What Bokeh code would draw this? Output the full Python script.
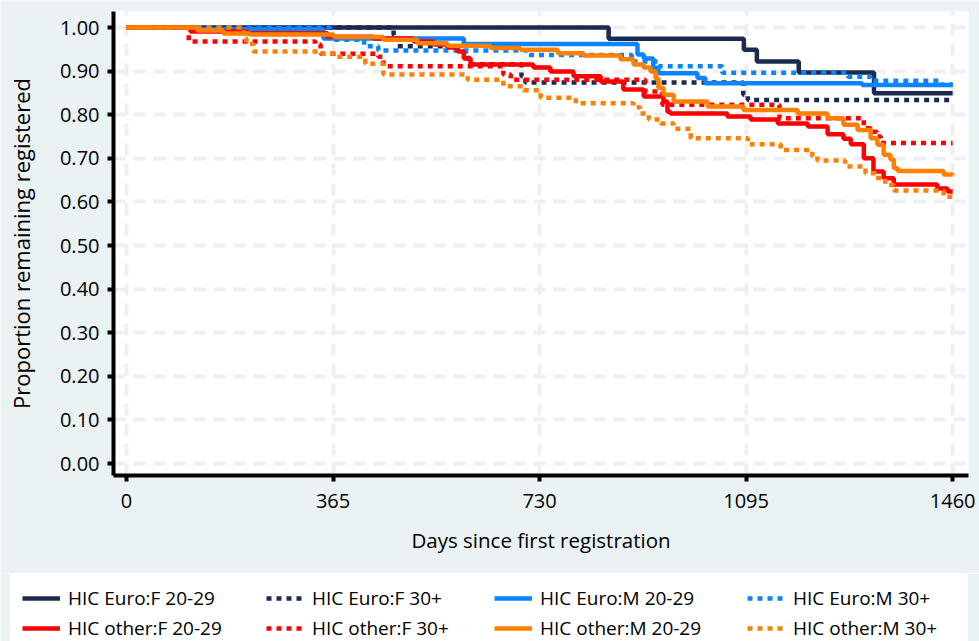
from bokeh.plotting import figure
from bokeh.layouts import column
from bokeh.models import Range1d, FixedTicker, Legend, LegendItem, PrintfTickFormatter
from bokeh.embed import file_html
from bokeh.resources import INLINE

# ---------------- data ----------------
x_ticks = [0, 365, 730, 1095, 1460]
y_ticks = [0.0, 0.1, 0.2, 0.3, 0.4, 0.5, 0.6, 0.7, 0.8, 0.9, 1.0]

labels = ["HIC Euro:F 20-29", "HIC Euro:F 30+", "HIC Euro:M 20-29", "HIC Euro:M 30+",
          "HIC other:F 20-29", "HIC other:F 30+", "HIC other:M 20-29", "HIC other:M 30+"]

euro_f_young_days = [0, 852, 1091, 1114, 1188, 1321, 1460]
euro_f_young_vals = [1.0, 0.974, 0.949, 0.922, 0.897, 0.849, 0.849]

euro_f_old_days = [0, 472, 479, 585, 604, 698, 705, 1090, 1098, 1460]
euro_f_old_vals = [1.0, 0.983, 0.957, 0.945, 0.916, 0.888, 0.874, 0.846, 0.834, 0.834]

euro_m_young_days = [0, 130, 348, 596, 903, 914, 931, 940, 1009, 1023, 1300, 1460]
euro_m_young_vals = [1.0, 0.996, 0.975, 0.962, 0.938, 0.929, 0.907, 0.895, 0.884, 0.872, 0.868, 0.868]

euro_m_old_days = [0, 360, 420, 445, 709, 893, 940, 1053, 1275, 1315, 1440, 1460]
euro_m_old_vals = [1.0, 0.972, 0.957, 0.947, 0.937, 0.922, 0.911, 0.896, 0.887, 0.878, 0.869, 0.869]

other_f_young_days = [0, 113, 214, 355, 437, 507, 543, 567, 585, 596, 608, 719, 749, 790, 838, 878,
                      914, 949, 956, 961, 1062, 1103, 1151, 1204, 1239, 1267, 1280, 1303, 1320,
                      1338, 1356, 1433, 1451, 1460]
other_f_young_vals = [1.0, 0.991, 0.987, 0.979, 0.975, 0.968, 0.961, 0.954, 0.945, 0.929, 0.915,
                      0.908, 0.899, 0.888, 0.876, 0.858, 0.842, 0.830, 0.807, 0.803, 0.796, 0.789,
                      0.780, 0.773, 0.755, 0.745, 0.732, 0.700, 0.670, 0.654, 0.640, 0.631, 0.624,
                      0.624]

other_f_old_days = [0, 110, 334, 343, 445, 454, 666, 679, 917, 947, 1154, 1303, 1315, 1326, 1333, 1460]
other_f_old_vals = [1.0, 0.968, 0.961, 0.940, 0.933, 0.911, 0.892, 0.880, 0.853, 0.823, 0.792,
                    0.769, 0.761, 0.750, 0.735, 0.735]

other_m_young_days = [0, 125, 171, 219, 366, 454, 514, 567, 643, 696, 762, 808, 873, 896, 914, 926,
                      935, 940, 949, 967, 1027, 1090, 1186, 1239, 1267, 1292, 1315, 1327, 1338,
                      1350, 1356, 1363, 1444, 1460]
other_m_young_vals = [1.0, 0.993, 0.986, 0.984, 0.978, 0.972, 0.964, 0.958, 0.953, 0.949, 0.941,
                      0.936, 0.927, 0.915, 0.908, 0.899, 0.883, 0.862, 0.846, 0.830, 0.819, 0.811,
                      0.803, 0.792, 0.777, 0.765, 0.746, 0.731, 0.708, 0.697, 0.677, 0.671, 0.663,
                      0.661]

other_m_old_days = [0, 207, 212, 224, 338, 366, 422, 454, 603, 666, 702, 732, 794, 896, 908, 923,
                    944, 967, 997, 1098, 1156, 1212, 1221, 1270, 1306, 1324, 1341, 1356, 1444, 1460]
other_m_old_vals = [1.0, 0.975, 0.962, 0.945, 0.940, 0.933, 0.917, 0.892, 0.880, 0.865, 0.856,
                    0.839, 0.826, 0.817, 0.803, 0.789, 0.780, 0.768, 0.746, 0.732, 0.719, 0.704,
                    0.695, 0.681, 0.666, 0.655, 0.639, 0.626, 0.612, 0.612]

series_days = [euro_f_young_days, euro_f_old_days, euro_m_young_days, euro_m_old_days,
               other_f_young_days, other_f_old_days, other_m_young_days, other_m_old_days]
series_vals = [euro_f_young_vals, euro_f_old_vals, euro_m_young_vals, euro_m_old_vals,
               other_f_young_vals, other_f_old_vals, other_m_young_vals, other_m_old_vals]

# ---------------- styles ----------------
colors = ["#1a2b4f", "#1a2b4f", "#0a84ff", "#0a84ff", "#ff0000", "#ff0000", "#ff8000", "#ff8000"]
dashes = ["solid", "5 5", "solid", "5 5", "solid", "5 5", "solid", "5 5"]
FONT = "Open Sans"
BG = "#eaf2f3"

p = figure(width=979, height=573, output_backend="svg", toolbar_location=None,
           x_range=Range1d(-23, 1488), y_range=Range1d(-0.0275, 1.0367),
           min_border_left=113, min_border_right=11, min_border_top=11, min_border_bottom=98)
p.frame_align = False
p.background_fill_color = "white"
p.border_fill_color = BG
p.outline_line_color = None

p.xaxis.ticker = FixedTicker(ticks=x_ticks)
p.yaxis.ticker = FixedTicker(ticks=y_ticks)
p.yaxis.formatter = PrintfTickFormatter(format="%.2f")
p.xaxis.axis_label = "Days since first registration"
p.yaxis.axis_label = "Proportion remaining registered"
for ax in (p.xaxis, p.yaxis):
    ax.axis_line_width = 4
    ax.axis_line_color = "black"
    ax.major_tick_line_width = 4
    ax.major_tick_line_color = "black"
    ax.major_tick_out = 6
    ax.major_tick_in = 0
    ax.minor_tick_line_color = None
    ax.major_label_text_font = FONT
    ax.major_label_text_font_size = "20px"
    ax.major_label_text_color = "black"
    ax.axis_label_text_font = FONT
    ax.axis_label_text_font_style = "normal"
    ax.axis_label_text_color = "black"
p.xaxis.axis_label_text_font_size = "20.5px"
p.yaxis.axis_label_text_font_size = "22px"
p.xaxis.major_label_standoff = 12
p.xaxis.axis_label_standoff = 15
p.yaxis.major_label_standoff = 8
p.yaxis.axis_label_standoff = 21

for g in (p.xgrid, p.ygrid):
    g.grid_line_color = "#efefef"
    g.grid_line_width = 4
    g.grid_line_dash = "12 8"
p.xgrid.ticker = FixedTicker(ticks=x_ticks)
p.ygrid.ticker = FixedTicker(ticks=y_ticks)

for d, v, c, ds in zip(series_days, series_vals, colors, dashes):
    p.step(d, v, mode="after", line_color=c, line_width=4.5, line_dash=ds)

# ---------------- legend strip ----------------
lg = figure(width=979, height=68, output_backend="svg", toolbar_location=None,
            x_range=Range1d(0, 1), y_range=Range1d(0, 1), x_axis_type=None, y_axis_type=None,
            min_border_left=10, min_border_right=12, min_border_top=0, min_border_bottom=0)
lg.frame_align = False
lg.background_fill_color = "white"
lg.border_fill_color = BG
lg.outline_line_color = None

nan = float("nan")
keys = []
for c, ds in zip(colors, dashes):
    keys.append(lg.line([nan], [nan], line_color=c, line_width=4.5, line_dash=ds))

col_x = [12, 256, 484, 737]
for i in range(4):
    items = [LegendItem(label=labels[i], renderers=[keys[i]]),
             LegendItem(label=labels[i + 4], renderers=[keys[i + 4]])]
    leg = Legend(items=items, location=(col_x[i], -1), orientation="vertical",
                 background_fill_alpha=0.0, border_line_color=None,
                 padding=0, spacing=2, margin=0,
                 glyph_width=38, glyph_height=28, label_height=28,
                 label_standoff=8,
                 label_text_font=FONT, label_text_font_size="19px",
                 label_text_color="black")
    lg.add_layout(leg)

layout = column(p, lg, spacing=0)
html = file_html(layout, INLINE)
html = html.replace("<body>", '<body style="background-color:%s">' % BG, 1)
open("out.html", "w").write(html)
